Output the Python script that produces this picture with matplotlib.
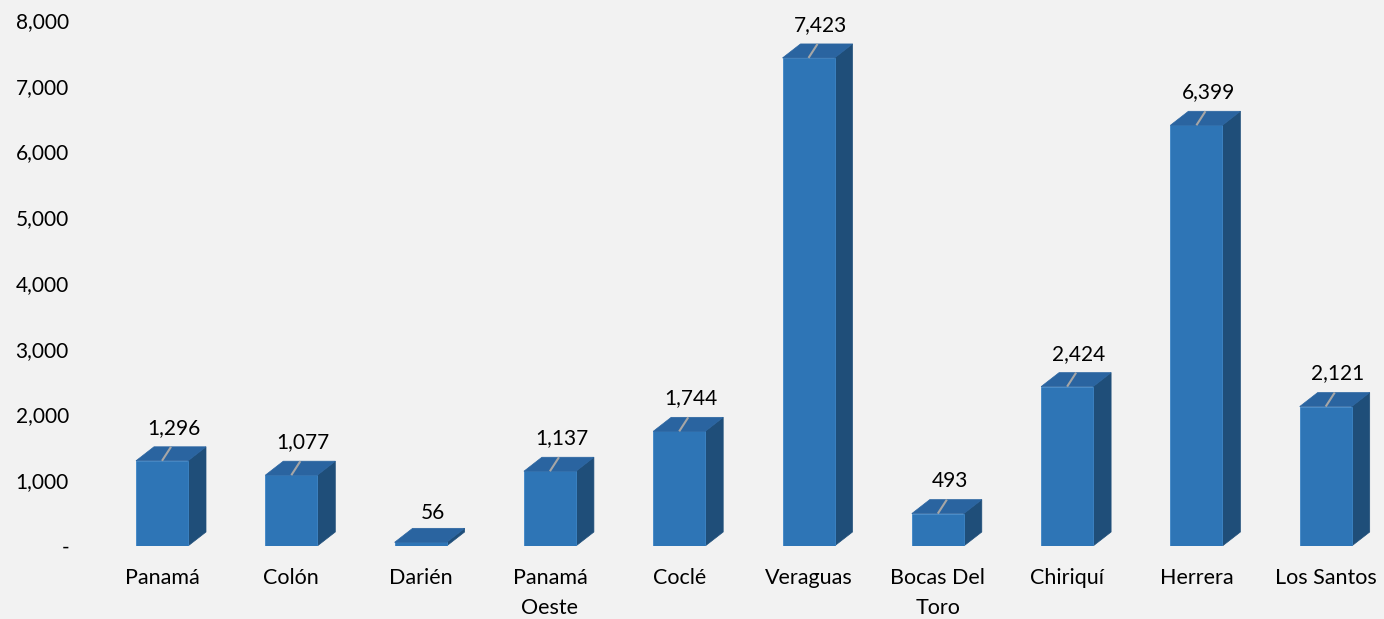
import matplotlib
matplotlib.use("Agg")
import matplotlib.pyplot as plt
from matplotlib.patches import Polygon

categories = ["Panamá", "Colón", "Darién", "Panamá\nOeste", "Coclé", "Veraguas",
              "Bocas Del\nToro", "Chiriquí", "Herrera", "Los Santos"]
values = [1296, 1077, 56, 1137, 1744, 7423, 493, 2424, 6399, 2121]
yticks = [0, 1000, 2000, 3000, 4000, 5000, 6000, 7000, 8000]

W, H, DPI = 1384, 619, 100
plt.rcParams['font.family'] = ['Lato', 'DejaVu Sans']
fig = plt.figure(figsize=(W / DPI, H / DPI), dpi=DPI, facecolor="#F2F2F2")

px_per_unit_y = 65.75 / 1000.0
px_per_cat = 129.3
x0_px = 162.0
ax_left_px, ax_bottom_px, ax_top_px = 80, 73, 614
ax = fig.add_axes([ax_left_px / W, ax_bottom_px / H, (W - ax_left_px) / W,
                   (ax_top_px - ax_bottom_px) / H])
ax.set_facecolor("#F2F2F2")
ax.set_xlim((ax_left_px - x0_px) / px_per_cat, (W - x0_px) / px_per_cat)
ax.set_ylim(0, (ax_top_px - ax_bottom_px) / px_per_unit_y)

w = 52 / px_per_cat
dx = 18 / px_per_cat
dy = 14 / px_per_unit_y
front_c, side_c, top_c = "#2E75B6", "#1F4E79", "#2A64A0"

xs = list(range(len(categories)))
ax.bar(xs, values, width=w, color=front_c, edgecolor="#3D85C6", linewidth=0.6, zorder=3)
for x, v in zip(xs, values):
    side = Polygon([(x + w / 2, 0), (x + w / 2 + dx, dy), (x + w / 2 + dx, v + dy), (x + w / 2, v)],
                   closed=True, facecolor=side_c, edgecolor=side_c, linewidth=0.5, zorder=2)
    top = Polygon([(x - w / 2, v), (x + w / 2, v), (x + w / 2 + dx, v + dy), (x - w / 2 + dx, v + dy)],
                  closed=True, facecolor=top_c, edgecolor=top_c, linewidth=0.5, zorder=4)
    ax.add_patch(side)
    ax.add_patch(top)
    if v > 200:
        ax.plot([x, x + 0.07], [v, v + dy], color="#A6A6A6", lw=1.5, zorder=5,
                solid_capstyle="butt")
        ty = v + 33 / px_per_unit_y
    else:
        ty = v + 29 / px_per_unit_y
    ax.text(x + 0.093, ty, f"{v:,}", ha="center", va="center", fontsize=15,
            color="#000000", zorder=6)

ax.set_yticks(yticks)
ax.set_yticklabels(["-" if t == 0 else f"{t:,}" for t in yticks])
ax.set_xticks(xs)
ax.set_xticklabels(categories, linespacing=1.6)
ax.tick_params(axis="both", length=0, labelsize=15, colors="#000000")
ax.tick_params(axis="x", labelsize=15.5)
ax.tick_params(axis="y", pad=8)
ax.tick_params(axis="x", pad=16)
for s in ax.spines.values():
    s.set_visible(False)

fig.savefig("out.png", dpi=DPI, facecolor=fig.get_facecolor())
